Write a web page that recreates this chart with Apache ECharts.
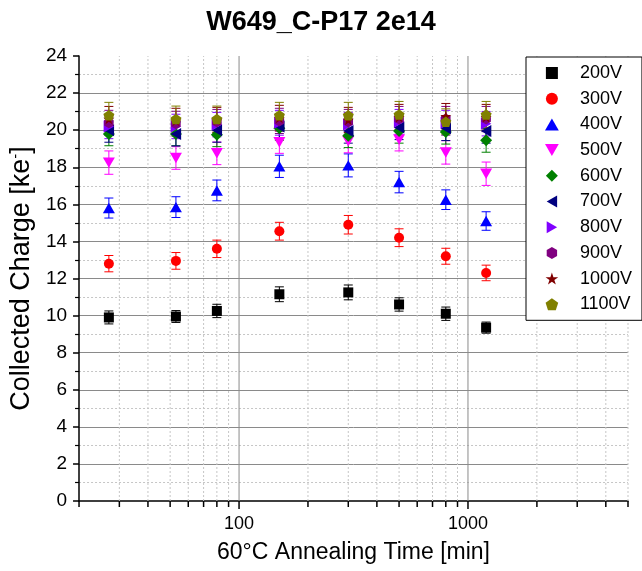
<!DOCTYPE html>
<html>
<head>
<meta charset="utf-8">
<script src="https://cdn.jsdelivr.net/npm/echarts@6/dist/echarts.min.js"></script>
<style>html,body{margin:0;padding:0;background:#fff;}#c{width:642px;height:571px;}</style>
</head>
<body>
<div id="c"></div>
<script>
// ---- data ----
const times = [27, 53, 80, 150, 300, 500, 800, 1200];
const seriesNames = ['200V','300V','400V','500V','600V','700V','800V','900V','1000V','1100V'];
const v200  = [9.9, 9.95, 10.25, 11.15, 11.25, 10.6, 10.1, 9.35];
const e200  = [0.35, 0.32, 0.36, 0.4, 0.4, 0.36, 0.36, 0.3];
const v300  = [12.8, 12.95, 13.6, 14.55, 14.9, 14.2, 13.2, 12.3];
const e300  = [0.44, 0.45, 0.47, 0.48, 0.5, 0.48, 0.43, 0.42];
const v400  = [15.8, 15.85, 16.75, 18.05, 18.1, 17.2, 16.25, 15.1];
const e400  = [0.54, 0.56, 0.56, 0.6, 0.62, 0.58, 0.53, 0.5];
const v500  = [18.25, 18.5, 18.75, 19.35, 19.4, 19.5, 18.8, 17.65];
const e500  = [0.63, 0.61, 0.61, 0.6, 0.62, 0.62, 0.63, 0.63];
const v600  = [19.8, 19.8, 19.75, 20.1, 19.7, 19.95, 19.9, 19.45];
const e600  = [0.64, 0.64, 0.64, 0.65, 0.64, 0.65, 0.65, 0.64];
const v700  = [20.0, 19.8, 20.0, 20.2, 19.95, 20.15, 20.1, 19.95];
const e700  = [0.65, 0.65, 0.65, 0.66, 0.65, 0.66, 0.66, 0.65];
const v800  = [20.2, 20.2, 20.3, 20.4, 20.3, 20.45, 20.4, 20.35];
const e800  = [0.66, 0.66, 0.66, 0.67, 0.66, 0.67, 0.67, 0.66];
const v900  = [20.4, 20.35, 20.45, 20.5, 20.45, 20.6, 20.6, 20.6];
const e900  = [0.67, 0.67, 0.67, 0.68, 0.67, 0.68, 0.68, 0.68];
const v1000 = [20.6, 20.5, 20.55, 20.65, 20.55, 20.7, 20.75, 20.7];
const e1000 = [0.68, 0.68, 0.68, 0.69, 0.68, 0.69, 0.69, 0.69];
const v1100 = [20.8, 20.6, 20.6, 20.8, 20.8, 20.85, 20.45, 20.85];
const e1100 = [0.7, 0.7, 0.7, 0.7, 0.7, 0.7, 0.7, 0.7];
const xTickVals = [20,30,40,50,60,70,80,90,100,200,300,400,500,600,700,800,900,1000,2000,3000,4000,5000];
const xMajorVals = [100, 1000];
const yMin = 0, yMax = 24, yStep = 2;

const values = [v200,v300,v400,v500,v600,v700,v800,v900,v1000,v1100];
const errors = [e200,e300,e400,e500,e600,e700,e800,e900,e1000,e1100];
const colors = ['#000000','#FF0000','#0000FF','#FF00FF','#008000','#000080','#8000FF','#800080','#800000','#808000'];
const symbols = [
  'path://M0,0 L100,0 L100,100 L0,100 Z',
  'circle',
  'path://M50,0 L100,87 L0,87 Z',
  'path://M0,0 L100,0 L50,87 Z',
  'path://M50,0 L100,50 L50,100 L0,50 Z',
  'path://M0,50 L87,0 L87,100 Z',
  'path://M0,0 L87,50 L0,100 Z',
  'path://M50,0 L93.3,25 L93.3,75 L50,100 L6.7,75 L6.7,25 Z',
  'path://M50,0 L61.8,35.5 L99,35.5 L69,57.5 L80.3,93 L50,71 L19.7,93 L31,57.5 L1,35.5 L38.2,35.5 Z',
  'path://M50,0 L97.6,34.5 L79.4,90.5 L20.6,90.5 L2.4,34.5 Z'];
const sizes = [10,10,12,12,12,12,12,11,11,11];

const chart = echarts.init(document.getElementById('c'), null, {renderer:'canvas'});

const series = [];
// vertical grid lines + x ticks (log minor ticks)
series.push({
  type:'custom', name:'xgrid', silent:true, z:1, clip:false,
  data: xTickVals.map(v => [v, yMin]),
  renderItem: function(params, api){
    const v = api.value(0);
    const b = api.coord([v, yMin]);
    const t = api.coord([v, yMax]);
    const major = xMajorVals.indexOf(v) >= 0;
    const children = [];
    if (v !== xTickVals[0]) {
      children.push({type:'line', shape:{x1:b[0],y1:b[1],x2:t[0],y2:t[1]},
        style:{stroke: major ? '#8a8a8a' : '#c6c6c6', lineWidth:1, lineDash: major ? null : [2,2]}});
    }
    children.push({type:'line', shape:{x1:b[0],y1:b[1],x2:b[0],y2:b[1] + (major ? 8 : 6)},
      style:{stroke:'#000', lineWidth:1.5}});
    return {type:'group', children};
  }
});
// error bars
seriesNames.forEach((n, i) => {
  series.push({
    type:'custom', name: n + ' err', z:3, silent:true,
    itemStyle:{color: colors[i]},
    data: times.map((t, k) => [t, values[i][k], errors[i][k]]),
    renderItem: function(params, api){
      const x = api.value(0), y = api.value(1), e = api.value(2);
      const hi = api.coord([x, y + e]);
      const lo = api.coord([x, y - e]);
      const c = api.visual('color');
      const w = 4.5;
      return {type:'group', children:[
        {type:'line', shape:{x1:hi[0],y1:hi[1],x2:lo[0],y2:lo[1]}, style:{stroke:c, lineWidth:1}},
        {type:'line', shape:{x1:hi[0]-w,y1:hi[1],x2:hi[0]+w,y2:hi[1]}, style:{stroke:c, lineWidth:1}},
        {type:'line', shape:{x1:lo[0]-w,y1:lo[1],x2:lo[0]+w,y2:lo[1]}, style:{stroke:c, lineWidth:1}}
      ]};
    }
  });
});
// markers
seriesNames.forEach((n, i) => {
  series.push({
    type:'scatter', name:n, z:5,
    symbol: symbols[i], symbolSize: sizes[i], symbolKeepAspect:true,
    itemStyle:{color: colors[i], opacity:1},
    data: times.map((t, k) => [t, values[i][k]])
  });
});

const option = {
  animation:false,
  backgroundColor:'#fff',
  title:{text:'W649_C-P17 2e14', left:'center', top:4,
    textStyle:{fontFamily:'Liberation Sans, Arial', fontWeight:'bold', fontSize:27, color:'#000'}},
  grid:{left:75, right:14, top:56, bottom:70, containLabel:false},
  xAxis:{type:'log', logBase:10, min:20, max:5000,
    name:'60°C Annealing Time [min]', nameLocation:'middle', nameGap:40,
    nameTextStyle:{fontFamily:'Liberation Sans, Arial', fontSize:23, color:'#000'},
    axisLine:{show:true, onZero:false, lineStyle:{color:'#000', width:1.5}},
    axisTick:{show:false},
    splitLine:{show:false},
    minorTick:{show:false}, minorSplitLine:{show:false},
    axisLabel:{margin:14, fontFamily:'Liberation Sans, Arial', fontSize:18, color:'#000',
      formatter: function(v){ return xMajorVals.indexOf(Math.round(v)) >= 0 ? String(Math.round(v)) : ''; }}
  },
  yAxis:{type:'value', min:yMin, max:yMax, interval:yStep,
    name:'Collected Charge [ke{sup|-}]', nameLocation:'middle', nameGap:30, nameRotate:90,
    nameTextStyle:{fontFamily:'Liberation Sans, Arial', fontSize:27, color:'#000',
      rich:{sup:{fontSize:15, verticalAlign:'top', fontFamily:'Liberation Sans, Arial', color:'#000', padding:[0,0,10,0]}}},
    axisLine:{show:true, lineStyle:{color:'#000', width:1.5}},
    axisTick:{show:true, length:6, lineStyle:{color:'#000', width:1.5}},
    minorTick:{show:true, splitNumber:2, length:4, lineStyle:{color:'#000', width:1.2}},
    splitLine:{show:true, showMinLine:false, showMaxLine:false, lineStyle:{color:'#8a8a8a', width:1}},
    minorSplitLine:{show:true, lineStyle:{color:'#c6c6c6', width:1, type:[2,2]}},
    axisLabel:{margin:12, fontFamily:'Liberation Sans, Arial', fontSize:19, color:'#000'}
  },
  legend:{
    data: seriesNames, orient:'vertical', left:526, top:57,
    padding:[7,10,7,19], itemWidth:46, itemHeight:12, itemGap:7.7,
    backgroundColor:'#fff', borderColor:'#000', borderWidth:1, borderRadius:0,
    selectedMode:false,
    textStyle:{fontFamily:'Liberation Sans, Arial', fontSize:18, color:'#000'}
  },
  series: series
};
chart.setOption(option);
</script>
</body>
</html>
